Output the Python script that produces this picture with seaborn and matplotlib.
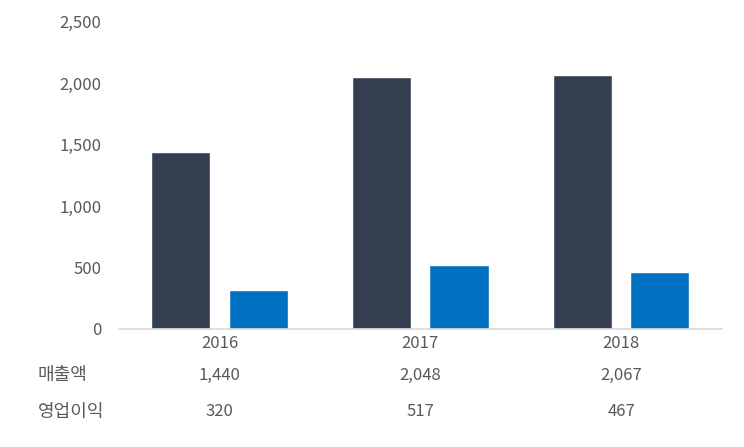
import numpy as np
import pandas as pd
import matplotlib
matplotlib.use("Agg")
import matplotlib.pyplot as plt
import seaborn as sns
from matplotlib import transforms

# data
years = ["2016", "2017", "2018"]
sales = [1440, 2048, 2067]          # 매출액
op_profit = [320, 517, 467]         # 영업이익
row_labels = ["매출액", "영업이익"]

df = pd.DataFrame({
    "year": years * 2,
    "value": sales + op_profit,
    "kind": [row_labels[0]] * 3 + [row_labels[1]] * 3,
})

sns.set_style("white")
plt.rcParams["font.family"] = ["Noto Sans CJK KR", "DejaVu Sans"]
text_col = "#595959"

fig = plt.figure(figsize=(7.44, 4.47), dpi=100)
ax = fig.add_axes([0.16, 0.264, 0.81, 0.687])

sns.barplot(data=df, x="year", y="value", hue="kind",
            palette=["#333F50", "#0070C0"], width=0.77, gap=0.235,
            saturation=1, legend=False, ax=ax)

ax.set_ylim(0, 2500)
ax.set_xlim(-0.5, 2.5)
ax.set_yticks(np.arange(0, 2501, 500))
ax.set_yticklabels([f"{v:,}" for v in range(0, 2501, 500)])
ax.tick_params(axis="both", length=0, labelsize=12, labelcolor=text_col)
ax.tick_params(axis="y", pad=12.5)
ax.tick_params(axis="x", pad=4)
ax.set_xlabel("")
ax.set_ylabel("")
for s in ["left", "right", "top"]:
    ax.spines[s].set_visible(False)
ax.spines["bottom"].set_color("#D9D9D9")
ax.spines["bottom"].set_linewidth(1.2)

# data table under the axis
trans = transforms.blended_transform_factory(ax.transData, fig.transFigure)
row_y = [1 - 375 / 447, 1 - 412 / 447]
for vals, y, lab in zip([sales, op_profit], row_y, row_labels):
    fig.text(38 / 744, y, lab, ha="left", va="center", fontsize=13, color=text_col)
    for i, v in enumerate(vals):
        ax.text(i, y, f"{v:,}", transform=trans, ha="center", va="center",
                fontsize=12, color=text_col)

plt.savefig("out.png", dpi=100)
